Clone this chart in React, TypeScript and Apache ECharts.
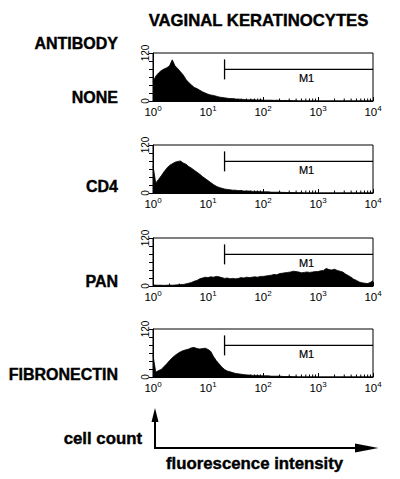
import React, { useEffect, useRef } from "react";
import * as echarts from "echarts";

// Channel positions in decades (log10 of fluorescence intensity)
const CHANNEL_EXP = [
  0, 0.05, 0.1, 0.15, 0.2, 0.25, 0.3, 0.35, 0.4, 0.45,
  0.5, 0.55, 0.6, 0.65, 0.7, 0.75, 0.8, 0.85, 0.9, 0.95,
  1.0, 1.05, 1.1, 1.15, 1.2, 1.25, 1.3, 1.35, 1.4, 1.45,
  1.5, 1.55, 1.6, 1.65, 1.7, 1.75, 1.8, 1.85, 1.9, 1.95,
  2.0, 2.05, 2.1, 2.15, 2.2, 2.25, 2.3, 2.35, 2.4, 2.45,
  2.5, 2.55, 2.6, 2.65, 2.7, 2.75, 2.8, 2.85, 2.9, 2.95,
  3.0, 3.05, 3.1, 3.15, 3.2, 3.25, 3.3, 3.35, 3.4, 3.45,
  3.5, 3.55, 3.6, 3.65, 3.7, 3.75, 3.8, 3.85, 3.9, 3.95,
  4.0,
];

const NONE_COUNTS = [
  48, 62, 70, 76, 80, 83, 88, 103, 88, 81,
  73, 65, 54, 46, 40, 34, 31, 27, 23, 20,
  17, 15, 14, 12, 10, 9, 8, 7, 6, 6,
  5, 5, 4, 4, 3, 3, 3, 3, 2, 3,
  2, 2, 2, 2, 1.5, 2, 1.5, 1, 1.5, 1,
  1, 0.5, 0.5, 0, 0, 0, 0, 0, 0, 0,
  0, 0, 0, 0, 0, 0, 0, 0, 0, 0,
  0, 0, 0, 0, 0, 0, 0, 0, 0, 0,
  0,
];

const CD4_COUNTS = [
  68, 25, 34, 43, 53, 62, 69, 73, 77, 79,
  80, 75, 72, 66, 62, 57, 52, 47, 41, 36,
  31, 26, 21, 17, 14, 12, 10, 9, 8, 7,
  7, 6, 6, 5, 5, 5, 4, 4, 4, 3,
  3, 3, 3, 2, 2, 2, 2, 1.5, 1.5, 1,
  1, 1, 0.5, 0.5, 0.5, 0, 0, 0, 0, 0,
  0, 0, 0, 0, 0, 0, 0, 0, 0, 0,
  0, 0, 0, 0, 0, 0, 0, 0, 0, 0,
  0,
];

const PAN_COUNTS = [
  3, 2, 2, 2, 1.5, 2, 2, 2, 2.5, 3,
  3.5, 4, 5, 7, 9, 12, 14, 18, 20, 22,
  21, 23, 22, 24, 23, 21, 19, 20, 18, 19,
  18, 19, 21, 20, 22, 21, 22, 23, 22, 24,
  24, 25, 26, 27, 29, 28, 31, 32, 33, 34,
  35, 37, 36, 35, 33, 34, 35, 34, 35, 36,
  36, 38, 39, 44, 41, 40, 42, 39, 37, 35,
  30, 26, 22, 17, 14, 10, 8, 7, 6, 9,
  13,
];

const FIBRONECTIN_COUNTS = [
  55, 12, 16, 19, 26, 33, 41, 48, 54, 59,
  63, 66, 68, 70, 73, 74, 71, 70, 71, 72,
  69, 64, 51, 41, 33, 25, 19, 15, 13, 11,
  9, 8, 7, 6, 5, 5, 4, 4, 4, 3,
  3, 3, 3, 2, 2, 2, 2, 1.5, 1, 1,
  1, 0.5, 0.5, 0, 0, 0, 0, 0, 0, 0,
  0, 0, 0, 0, 0, 0, 0, 0, 0, 0,
  0, 0, 0, 0, 0, 0, 0, 0, 0, 0,
  0,
];

const ANTIBODY_LABELS = ["NONE", "CD4", "PAN", "FIBRONECTIN"];
const PANEL_COUNTS = [NONE_COUNTS, CD4_COUNTS, PAN_COUNTS, FIBRONECTIN_COUNTS];

// Marker gate M1
const M1_START = 20;
const M1_END = 10000;
const M1_LEVEL = 79;
const M1_TEXT_AT = 620;

// Axes
const X_MIN = 1;
const X_MAX = 10000;
const Y_MIN = 0;
const Y_MAX = 120;
const Y_INTERVAL = 20;
const Y_TICK_LABELS = [0, 120];

const FONT = "'Liberation Sans', Arial, Helvetica, sans-serif";
const PANEL_TOPS = [53, 145, 238, 329];
const LABEL_YS = [97, 186, 281, 374];

const MINOR_TICKS: number[] = [];
for (let d = 1; d < X_MAX; d *= 10) {
  for (let k = 2; k <= 9; k++) MINOR_TICKS.push(k * d);
}

const boldText = (text: string, x: number, y: number, align: string, size: number) => ({
  type: "text",
  x,
  y,
  style: {
    text,
    align,
    verticalAlign: "middle",
    fontSize: size,
    fontWeight: "bold",
    fontFamily: FONT,
    fill: "#000",
    stroke: "#000",
    lineWidth: 0.4,
  },
});

export default function App() {
  const ref = useRef<HTMLDivElement>(null);

  useEffect(() => {
    if (!ref.current) return;
    const chart = echarts.init(ref.current, null, { renderer: "svg" });

    const grids = PANEL_TOPS.map((t) => ({
      left: 153,
      width: 220,
      top: t,
      height: 48,
      show: true,
      borderColor: "#000",
      borderWidth: 1,
      backgroundColor: "transparent",
    }));

    const xAxes = PANEL_TOPS.map((_, i) => ({
      gridIndex: i,
      type: "log",
      logBase: 10,
      min: X_MIN,
      max: X_MAX,
      axisLine: { show: true, lineStyle: { color: "#000", width: 1 } },
      axisTick: { show: true, inside: true, length: 4, lineStyle: { color: "#000", width: 1 } },
      splitLine: { show: false },
      axisLabel: {
        color: "#000",
        margin: 3,
        fontFamily: FONT,
        formatter: (v: number) => `{b|10}{s|${Math.round(Math.log10(v))}}`,
        rich: {
          b: { fontSize: 11.5, fontFamily: FONT, color: "#000" },
          s: { fontSize: 8, fontFamily: FONT, color: "#000", padding: [0, 0, 7, 0] },
        },
      },
    }));

    const yAxes = PANEL_TOPS.map((_, i) => ({
      gridIndex: i,
      type: "value",
      min: Y_MIN,
      max: Y_MAX,
      interval: Y_INTERVAL,
      axisLine: { show: true, lineStyle: { color: "#000", width: 1 } },
      axisTick: { show: true, inside: false, length: 4, lineStyle: { color: "#000", width: 1 } },
      splitLine: { show: false },
      axisLabel: {
        rotate: 90,
        margin: 3,
        fontSize: 10,
        color: "#000",
        fontFamily: FONT,
        formatter: (v: number) => (Y_TICK_LABELS.includes(v) ? String(v) : ""),
      },
    }));

    const series: any[] = [];
    PANEL_COUNTS.forEach((counts, i) => {
      series.push({
        type: "line",
        xAxisIndex: i,
        yAxisIndex: i,
        data: CHANNEL_EXP.map((e, k) => [Math.pow(10, e), counts[k]]),
        symbol: "none",
        showSymbol: false,
        lineStyle: { color: "#000", width: 0.8 },
        areaStyle: { color: "#000", opacity: 1 },
        silent: true,
      });
      series.push({
        type: "custom",
        xAxisIndex: i,
        yAxisIndex: i,
        silent: true,
        data: MINOR_TICKS.map((v) => [v, 0]),
        renderItem: (_p: any, api: any) => {
          const p = api.coord([api.value(0), 0]);
          return {
            type: "line",
            shape: { x1: p[0], y1: p[1], x2: p[0], y2: p[1] - 2.5 },
            style: { stroke: "#000", lineWidth: 1 },
          };
        },
      });
      series.push({
        type: "custom",
        xAxisIndex: i,
        yAxisIndex: i,
        silent: true,
        encode: { x: [0, 1, 3], y: 2 },
        data: [[M1_START, M1_END, M1_LEVEL, M1_TEXT_AT]],
        renderItem: (_p: any, api: any) => {
          const a = api.coord([api.value(0), api.value(2)]);
          const b = api.coord([api.value(1), api.value(2)]);
          const c = api.coord([api.value(3), api.value(2)]);
          return {
            type: "group",
            children: [
              {
                type: "line",
                shape: { x1: a[0], y1: a[1], x2: b[0], y2: b[1] },
                style: { stroke: "#000", lineWidth: 1.3 },
              },
              {
                type: "line",
                shape: { x1: a[0], y1: a[1] - 10, x2: a[0], y2: a[1] + 10 },
                style: { stroke: "#000", lineWidth: 1.3 },
              },
              {
                type: "text",
                x: c[0],
                y: a[1] + 3,
                style: {
                  text: "M1",
                  align: "center",
                  verticalAlign: "top",
                  fontSize: 11,
                  fontFamily: FONT,
                  fill: "#000",
                  stroke: "#000",
                  lineWidth: 0.2,
                },
              },
            ],
          };
        },
      });
    });

    const graphic: any[] = [
      boldText("VAGINAL KERATINOCYTES", 258.5, 20, "center", 16.7),
      boldText("ANTIBODY", 118, 43, "right", 16),
      ...ANTIBODY_LABELS.map((lab, i) => boldText(lab, 118, LABEL_YS[i], "right", 16)),
      {
        type: "line",
        shape: { x1: 155, y1: 448.5, x2: 155, y2: 420 },
        style: { stroke: "#000", lineWidth: 2 },
      },
      {
        type: "polygon",
        shape: { points: [[151.5, 422], [158.5, 422], [155, 408]] },
        style: { fill: "#000" },
      },
      {
        type: "line",
        shape: { x1: 154, y1: 448, x2: 360, y2: 448 },
        style: { stroke: "#000", lineWidth: 2 },
      },
      {
        type: "polygon",
        shape: { points: [[355, 443.5], [378.5, 448], [355, 452.5]] },
        style: { fill: "#000" },
      },
      boldText("cell count", 142, 438, "right", 16.8),
      boldText("fluorescence intensity", 166, 463, "left", 16.8),
    ];

    chart.setOption({
      animation: false,
      backgroundColor: "#fff",
      grid: grids,
      xAxis: xAxes,
      yAxis: yAxes,
      series,
      graphic,
    });

    return () => chart.dispose();
  }, []);

  return (
    <div
      ref={ref}
      style={{ position: "fixed", left: 0, top: 0, width: 400, height: 479, background: "#fff" }}
    />
  );
}
